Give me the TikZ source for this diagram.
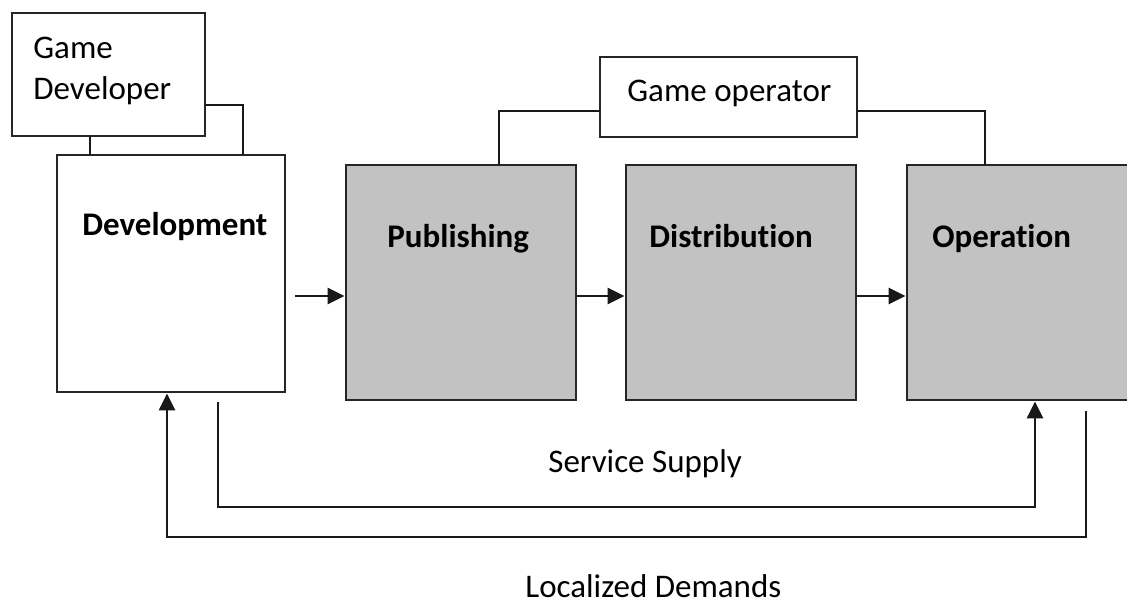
\documentclass[tikz,border=0pt]{standalone}
\usepackage{fontspec}
\setmainfont[Ligatures=NoCommon]{Carlito}
\usetikzlibrary{arrows.meta,fit,calc}
\begin{document}
\begin{tikzpicture}[x=0.5pt,y=-0.5pt,
  box/.style={draw=black!85,line width=1.4pt,inner sep=0pt},
  wbox/.style={box,fill=white},
  gbox/.style={box,fill=black!24},
  lbl/.style={inner sep=0pt,font=\fontsize{16.5}{20.5}\selectfont},
  blbl/.style={lbl,font=\fontsize{16.5}{20.5}\selectfont\bfseries},
  conn/.style={draw=black!90,line width=1.4pt},
  arr/.style={conn,-{Triangle[length=8.5pt,width=8pt]}}]
\useasboundingbox (0,0) rectangle (1127,605);
\fill[white] (0,0) rectangle (1127,605);
% boxes
\node[wbox,fit={(12,13)(205,136)}] (gd) {};
\node[wbox,fit={(57,155)(285,392)}] (dev) {};
\node[wbox,fit={(600,57)(857,137)}] (go) {};
\node[gbox,fit={(346,165)(576,400)}] (pub) {};
\node[gbox,fit={(626,165)(856,400)}] (dis) {};
\node[gbox,fit={(907,165)(1140,400)}] (op) {};
% texts
\node[lbl,anchor=west,align=left] (gdt) at (33,71) {Game\\Developer};
\node[blbl,anchor=base west] (devt) at (82,235) {Development};
\node[lbl,anchor=base west] (got) at (627,101) {Game operator};
\node[blbl,anchor=base west] (pubt) at (387,247) {Publishing};
\node[blbl,anchor=base west] (dist) at (649,247) {Distribut\kern0pt ion};
\node[blbl,anchor=base west] (opt) at (932,247) {Operat\kern0pt ion};
\node[lbl,anchor=base west] (sst) at (548,472) {Service Supply};
\node[lbl,anchor=base west] (ldt) at (525,597) {Localized Demands};
% top connectors
\draw[conn] (90,136) -- (90,155);
\coordinate (gdr) at (205,105);
\draw[conn] (gdr) -| (243,155);
\coordinate (gol) at (600,111);
\coordinate (gor) at (857,111);
\draw[conn] (gol) -| (499,165);
\draw[conn] (gor) -| (985,165);
% flow arrows
\coordinate (a0) at (295,296);
\draw[arr] (a0) -- (a0 -| pub.west);
\draw[arr] (pub.east |- a0) -- (a0 -| dis.west);
\draw[arr] (dis.east |- a0) -- (a0 -| op.west);
% service supply
\coordinate (ss0) at (218,402);
\coordinate (ss1) at (1035,507);
\draw[arr] (ss0) |- (ss1) -- (ss1 |- op.south);
% localized demands
\coordinate (ld0) at (1086,411);
\coordinate (ld1) at (167,537);
\draw[arr] (ld0) |- (ld1) -- (ld1 |- dev.south);
\end{tikzpicture}
\end{document}
